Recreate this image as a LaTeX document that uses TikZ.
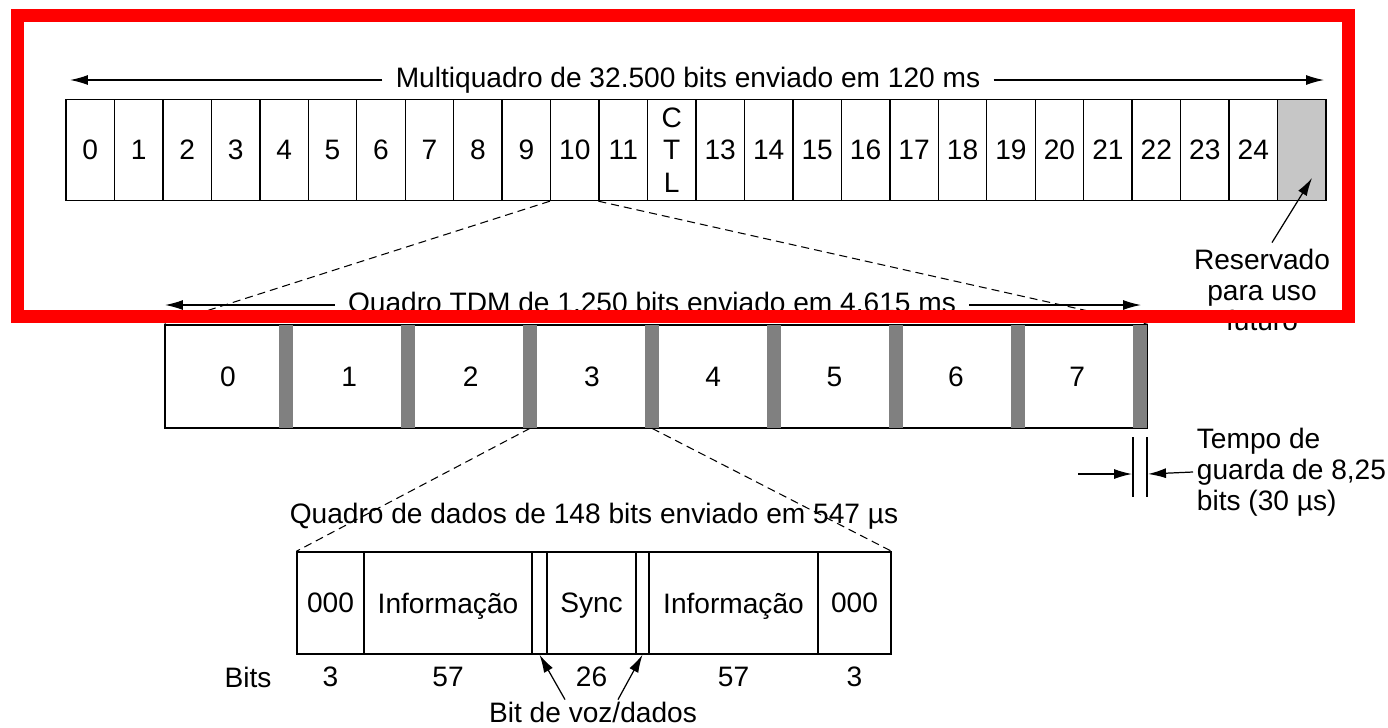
\documentclass[tikz,border=0pt]{standalone}
\usepackage{fontspec}
\setmainfont{Liberation Sans}
\usetikzlibrary{arrows.meta,positioning}
\definecolor{guardgray}{RGB}{128,128,128}
\definecolor{resgray}{RGB}{198,198,198}
\definecolor{markred}{RGB}{255,0,0}

\begin{document}
\begin{tikzpicture}[x=0.02cm, y=-0.02cm,
  every node/.style={font=\fontsize{16}{17.6}\selectfont},
  cell/.style={draw, line width=0.8pt, minimum width=0.969cm, minimum height=2.02cm, inner sep=0pt, text depth=0pt},
  dcell/.style={draw, line width=0.8pt, minimum height=2.04cm, inner sep=0pt, text depth=0pt},
  bar/.style={fill=guardgray, draw=none, minimum width=0.28cm, minimum height=2.06cm, inner sep=0pt},
  arr/.style={-{Latex[length=0.36cm, width=0.2cm]}, line width=0.7pt},
  link/.style={dash pattern=on 0.16cm off 0.1cm, line width=0.6pt}]
\useasboundingbox (0,0) rectangle (1388,727);

% multiquadro
\foreach \i in {0,...,24}
  \node[cell] (mq\i) at ({66+48.46*(\i+0.5)},150) {\ifnum\i=12 \else\i\fi};
\node[cell, fill=resgray] (mq25) at ({66+48.46*25.5},150) {};
\node[align=center, inner sep=0pt, font=\fontsize{16}{18.4}\selectfont] (ctl) at (mq12) {C\\T\\L};
\node[inner xsep=0.26cm] (mqlbl) at (688,80) {Multiquadro de 32.500 bits enviado em 120 ms};
\coordinate (mqL) at (70,80);
\coordinate (mqR) at (1324,80);
\draw[arr] (mqlbl) -- (mqL);
\draw[arr] (mqlbl) -- (mqR);
\node[align=center] (res) at (1262,290) {Reservado\\para uso\\futuro};
\coordinate (rtip) at (1312,178);
\draw[arr] ([xshift=0.2cm]res.north) -- (rtip);

% quadro TDM
\node[draw, line width=0.8pt, minimum width=19.64cm, minimum height=2.06cm, inner sep=0pt] (tdm) at (656,376.5) {};
\foreach \i in {0,...,7} {
  \node[bar] (g\i) at ({286+122*\i},376.5) {};
  \node (ts\i) at ({228+121.3*\i},377) {\i};
}
\node[inner xsep=0.26cm] (tdmlbl) at (652,305) {Quadro TDM de 1.250 bits enviado em 4,615 ms};
\coordinate (tdmL) at (165,305);
\coordinate (tdmR) at (1141,305);
\draw[arr] (tdmlbl) -- (tdmL);
\draw[arr] (tdmlbl) -- (tdmR);
\draw[link] (mq10.south west) -- (tdm.north west);
\draw[link] (mq11.south west) -- (tdm.north east);

% tempo de guarda
\draw[line width=0.7pt] (1133,437) -- (1133,497) (1147,437) -- (1147,497);
\coordinate (gw) at (1132,474);
\coordinate (ge) at (1148,474);
\coordinate (gtail) at (1078,474);
\node[align=left, anchor=west, inner sep=2pt] (guard) at (1193,472) {Tempo de\\guarda de 8,25\\bits (30 µs)};
\draw[arr] (gtail) -- (gw);
\draw[arr] (guard.west) -- (ge);

% quadro de dados
\foreach \c/\w/\n/\t in {330.5/67/d1/000, 448/168/d2/Informação, 539.5/15/d3/, 591.5/89/d4/Sync,
    642.5/13/d5/, 733.5/169/d6/Informação, 854.5/73/d7/000}
  \node[dcell, minimum width=\w*0.02cm] (\n) at (\c,603) {\t};
\node (dlbl) at (594,516) {Quadro de dados de 148 bits enviado em 547 µs};
\draw[link] (g2.south) -- (d1.north west);
\draw[link] (g3.south) -- (d7.north east);
\node (bits) at (248,677) {Bits};
\foreach \n/\t in {d1/3, d2/57, d4/26, d6/57, d7/3}
  \node at (\n |- bits) {\t};
\node[inner ysep=1pt] (bvd) at (593,712) {Bit de voz/dados};
\draw[arr] ([xshift=-0.56cm]bvd.north) -- (d3.south);
\draw[arr] ([xshift=0.5cm]bvd.north) -- (d5.south);

% destaque
\draw[markred, line width=0.27cm] (17.5,15.5) rectangle (1348.5,316.5);
\end{tikzpicture}
\end{document}
